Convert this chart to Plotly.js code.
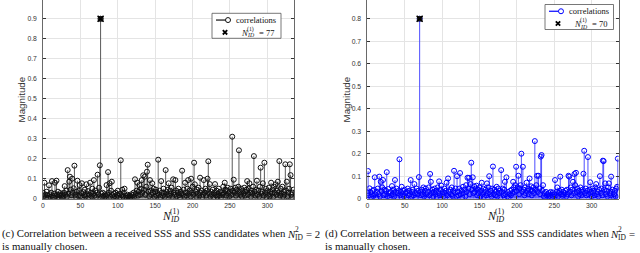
<!DOCTYPE html>
<html><head><meta charset="utf-8">
<script src="https://cdn.plot.ly/plotly-3.0.1.min.js"></script>
<style>html,body{margin:0;padding:0;background:#fff}#g{width:640px;height:253px}</style>
</head><body><div id="g"></div>
<script>
// N_ID^(1) = 0..335
const corrLeft = [
0.03,0.012,0.08,0.02,0.005,0.035,0.018,0.004,0.067,0.022,0.01,0.03,0.088,0.015,0.006,0.025,0.08,0.012,0.09,0.02,0.035,0.008,0.018,0.028,
0.015,0.006,0.022,0.012,0.03,0.063,0.02,0.04,0.01,0.143,0.025,0.085,0.11,0.045,0.018,0.10,0.03,0.052,0.165,0.02,0.008,0.035,0.09,0.015,
0.04,0.068,0.012,0.028,0.077,0.005,0.033,0.018,0.045,0.01,0.072,0.022,0.038,0.006,0.02,0.08,0.03,0.012,0.05,0.025,0.093,0.015,0.04,0.008,
0.03,0.12,0.02,0.055,0.167,0.9,0.025,0.01,0.03,0.015,0.005,0.022,0.012,0.068,0.02,0.133,0.03,0.077,0.01,0.04,0.085,0.018,0.006,0.025,
0.012,0.03,0.008,0.02,0.04,0.015,0.005,0.025,0.192,0.018,0.045,0.01,0.03,0.05,0.006,0.015,0.004,0.02,0.01,0.003,0.015,0.008,0.022,0.005,
0.018,0.03,0.01,0.097,0.025,0.04,0.08,0.015,0.035,0.068,0.02,0.05,0.093,0.03,0.117,0.045,0.11,0.02,0.06,0.135,0.17,0.035,0.012,0.093,
0.04,0.02,0.077,0.03,0.05,0.01,0.035,0.045,0.015,0.028,0.195,0.02,0.04,0.008,0.088,0.03,0.015,0.05,0.025,0.01,0.143,0.035,0.02,0.045,
0.077,0.015,0.04,0.025,0.055,0.01,0.097,0.03,0.02,0.093,0.04,0.012,0.03,0.05,0.018,0.006,0.035,0.025,0.14,0.02,0.045,0.01,0.08,0.03,
0.015,0.05,0.093,0.025,0.04,0.012,0.10,0.03,0.06,0.02,0.18,0.072,0.035,0.01,0.045,0.025,0.055,0.015,0.105,0.03,0.04,0.008,0.02,0.093,
0.03,0.05,0.015,0.04,0.10,0.187,0.025,0.073,0.01,0.035,0.02,0.045,0.005,0.03,0.073,0.018,0.04,0.01,0.025,0.05,0.015,0.035,0.006,0.028,
0.02,0.06,0.03,0.08,0.045,0.015,0.04,0.055,0.025,0.01,0.035,0.05,0.02,0.31,0.04,0.095,0.03,0.055,0.015,0.045,0.025,0.06,0.242,0.035,
0.02,0.05,0.01,0.04,0.025,0.055,0.015,0.035,0.045,0.088,0.02,0.05,0.077,0.03,0.01,0.04,0.025,0.06,0.213,0.035,0.015,0.045,0.09,0.02,
0.04,0.01,0.06,0.155,0.025,0.035,0.077,0.015,0.18,0.03,0.05,0.008,0.04,0.02,0.055,0.012,0.035,0.08,0.025,0.045,0.01,0.06,0.03,0.072,
0.02,0.04,0.085,0.03,0.188,0.015,0.05,0.025,0.06,0.01,0.035,0.02,0.172,0.04,0.085,0.012,0.03,0.05,0.172,0.118,0.02,0.008,0.03,0.045
];
const corrRight = [
0.025,0.123,0.015,0.046,0.03,0.008,0.02,0.035,0.012,0.04,0.095,0.018,0.005,0.03,0.045,0.02,0.098,0.01,0.075,0.035,0.05,0.083,0.015,0.04,
0.02,0.035,0.118,0.01,0.043,0.025,0.005,0.03,0.015,0.056,0.02,0.04,0.01,0.083,0.03,0.045,0.006,0.025,0.035,0.175,0.015,0.03,0.053,0.02,
0.035,0.01,0.04,0.025,0.005,0.03,0.045,0.015,0.035,0.02,0.083,0.01,0.03,0.04,0.015,0.065,0.025,0.005,0.045,0.02,0.035,0.096,0.8,0.03,
0.015,0.04,0.02,0.05,0.01,0.035,0.045,0.02,0.005,0.03,0.05,0.015,0.11,0.075,0.025,0.04,0.01,0.03,0.045,0.02,0.035,0.008,0.05,0.025,
0.077,0.015,0.04,0.058,0.02,0.03,0.01,0.045,0.025,0.035,0.071,0.015,0.09,0.03,0.005,0.04,0.02,0.05,0.012,0.035,0.124,0.025,0.045,0.01,
0.10,0.03,0.015,0.045,0.114,0.02,0.035,0.005,0.053,0.025,0.04,0.01,0.06,0.03,0.093,0.045,0.093,0.02,0.065,0.16,0.04,0.095,0.025,0.055,
0.03,0.045,0.058,0.015,0.04,0.025,0.05,0.01,0.035,0.071,0.02,0.045,0.008,0.03,0.04,0.015,0.068,0.025,0.05,0.10,0.02,0.035,0.01,0.045,
0.143,0.02,0.04,0.015,0.03,0.053,0.01,0.045,0.025,0.035,0.005,0.127,0.03,0.045,0.015,0.04,0.075,0.02,0.095,0.01,0.03,0.005,0.02,0.035,
0.015,0.04,0.025,0.075,0.05,0.03,0.06,0.142,0.035,0.05,0.102,0.02,0.045,0.06,0.20,0.03,0.142,0.04,0.015,0.05,0.025,0.071,0.035,0.045,
0.02,0.09,0.04,0.055,0.015,0.035,0.05,0.025,0.256,0.04,0.06,0.102,0.03,0.102,0.045,0.02,0.187,0.194,0.035,0.06,0.01,0.025,0.005,0.03,
0.015,0.02,0.008,0.025,0.012,0.03,0.005,0.018,0.028,0.01,0.02,0.083,0.015,0.03,0.05,0.01,0.025,0.035,0.098,0.02,0.04,0.012,0.03,0.018,
0.025,0.035,0.01,0.04,0.02,0.102,0.098,0.03,0.05,0.015,0.04,0.075,0.025,0.11,0.06,0.115,0.03,0.045,0.01,0.035,0.02,0.05,0.015,0.03,
0.04,0.111,0.213,0.025,0.045,0.015,0.035,0.185,0.02,0.04,0.073,0.03,0.01,0.045,0.025,0.035,0.015,0.05,0.065,0.02,0.03,0.01,0.04,0.10,
0.025,0.045,0.015,0.169,0.167,0.04,0.068,0.02,0.035,0.01,0.05,0.068,0.025,0.015,0.098,0.03,0.04,0.008,0.02,0.035,0.01,0.045,0.053,0.178
];
const xTicks = [0,50,100,150,200,250,300];
const yTicksLeft = [0,0.1,0.2,0.3,0.4,0.5,0.6,0.7,0.8,0.9];
const yTicksRight = [0,0.1,0.2,0.3,0.4,0.5,0.6,0.7,0.8];
const legendLabel = "correlations";
const captionMain = "Correlation between a received SSS and SSS candidates when";
const captionEnd = "is manually chosen.";

const W=640,H=253;
const px = x => x/W, py = y => 1 - y/H;
const idx = corrLeft.map((_,i)=>i);

function stems(vals, xa, ya, lineColor, markColor){
  const sx=[], sy=[];
  vals.forEach((v,i)=>{sx.push(i,i,null); sy.push(0,v,null);});
  let k=0; vals.forEach((v,i)=>{ if(v>vals[k]) k=i; });
  return [
    {x:sx,y:sy,xaxis:xa,yaxis:ya,mode:'lines',line:{color:lineColor,width:1},hoverinfo:'skip',showlegend:false,type:'scatter'},
    {x:idx,y:vals,xaxis:xa,yaxis:ya,mode:'markers',marker:{symbol:'circle-open',size:5,color:markColor,line:{width:1,color:markColor}},showlegend:false,type:'scatter'},
    {x:[k],y:[vals[k]],xaxis:xa,yaxis:ya,mode:'markers',marker:{symbol:'square',size:5.5,color:'#1a1a1a',line:{width:0}},showlegend:false,type:'scatter'},
    {x:[k],y:[vals[k]],xaxis:xa,yaxis:ya,mode:'markers',marker:{symbol:'x-thin-open',size:6,color:'#000',line:{width:1.5,color:'#000'}},showlegend:false,type:'scatter'}
  ];
}
const kL = corrLeft.indexOf(Math.max(...corrLeft));
const kR = corrRight.indexOf(Math.max(...corrRight));

const data = [...stems(corrLeft,'x','y','#5a5a5a','#111'), ...stems(corrRight,'x2','y2','#4d4dff','#0000ff')];

const tickFont={family:'Liberation Sans, Arial, sans-serif',size:6.8,color:'#333'};
function xax(d){return {domain:d,range:[0,336],tickvals:xTicks,ticks:'inside',ticklen:3,tickcolor:'#333',tickfont:tickFont,showgrid:true,gridcolor:'#e4e4e4',gridwidth:1,zeroline:false,showline:true,linecolor:'#444',linewidth:0.8,fixedrange:true};}
function yax(top,tv,anchor){return {domain:[54.3/H,1],range:[0,top],tickvals:tv,ticks:'inside',ticklen:3,tickcolor:'#333',tickfont:tickFont,ticklabelstandoff:4,showgrid:true,gridcolor:'#e4e4e4',gridwidth:1,zeroline:false,showline:true,mirror:'ticks',linecolor:'#444',linewidth:0.8,anchor:anchor,fixedrange:true};}

const serif='Liberation Serif, Times New Roman, serif';
const ann=[], shapes=[];
function txt(x,y,t,size,opts={}){ann.push(Object.assign({xref:'paper',yref:'paper',x:px(x),y:py(y),text:t,showarrow:false,xanchor:'left',yanchor:'middle',font:{family:serif,size:size,color:'#111'}},opts));}

// y titles
[[21.5,100],[346.5,100]].forEach(([x,y])=>txt(x,y,'Magnitude',9.8,{xanchor:'center',textangle:-90,font:{family:'Liberation Sans, Arial, sans-serif',size:9.8,color:'#333'}}));
// x titles N_ID^(1)
function nid(x,y,s,supTxt,subTxt,italicSub){
  txt(x,y,'<i>N</i>',s);
  txt(x+s*0.72,y-s*0.42,supTxt,s*0.68);
  txt(x+s*0.72,y+s*0.3,italicSub?'<i>'+subTxt+'</i>':subTxt,s*0.68);
}
nid(160,216,11.5,'(1)','ID',true);
nid(484.5,216,11.5,'(1)','ID',true);

// legends
function legend(x0,y0,x1,y1,color,label2){
  shapes.push({type:'rect',xref:'paper',yref:'paper',x0:px(x0),x1:px(x1),y0:py(y0),y1:py(y1),line:{color:'#555',width:0.8},fillcolor:'#fff'});
  const r1=y0+(y1-y0)*0.27, r2=y0+(y1-y0)*0.76;
  shapes.push({type:'line',xref:'paper',yref:'paper',x0:px(x0+4),x1:px(x0+15),y0:py(r1),y1:py(r1),line:{color:color,width:1.2}});
  shapes.push({type:'circle',xref:'paper',yref:'paper',x0:px(x0+13.5),x1:px(x0+18.5),y0:py(r1-2.5),y1:py(r1+2.5),line:{color:color,width:1},fillcolor:'#fff'});
  txt(x0+22,r1-0.5,legendLabel,8.5);
  const cx=x0+13;
  shapes.push({type:'path',xref:'paper',yref:'paper',path:`M${px(cx-2.2)},${py(r2-2.2)} L${px(cx+2.2)},${py(r2+2.2)} M${px(cx-2.2)},${py(r2+2.2)} L${px(cx+2.2)},${py(r2-2.2)}`,line:{color:'#000',width:1.8}});
  nid(x0+27,r2+0.5,8.5,'(1)','ID',true);
  txt(x0+45,r2+0.5,'= '+label2,8.5);
}
legend(212,13.3,281,38.3,'#111',String(kL));
legend(545,4.5,613.5,29.5,'#0000ff',String(kR));

// captions
const capF=10.8;
function caption(x,letter){
  txt(x,233.5,'('+letter+') '+captionMain,capF);
  txt(x,245.5,captionEnd,capF);
}
caption(0,'c');
caption(323,'d');
function capN(x,tail){
  txt(x,233.5,'<i>N</i>',capF);
  txt(x+8,229.3,'2',7.5);
  txt(x+8,237.5,'ID',7.5);
  txt(x+19,233.5,tail,capF);
}
capN(285,'= 2');
capN(608,'=');

const layout={width:W,height:H,margin:{l:0,r:0,t:0,b:0},paper_bgcolor:'#fff',plot_bgcolor:'#fff',showlegend:false,
  xaxis:Object.assign(xax([43/W,294.3/W]),{anchor:'y'}),yaxis:yax(0.9935,yTicksLeft,'x'),
  xaxis2:Object.assign(xax([367.3/W,618.6/W]),{anchor:'y2'}),yaxis2:yax(0.883,yTicksRight,'x2'),
  annotations:ann,shapes:shapes};
Plotly.newPlot('g',data,layout,{staticPlot:true,displayModeBar:false});
</script></body></html>
